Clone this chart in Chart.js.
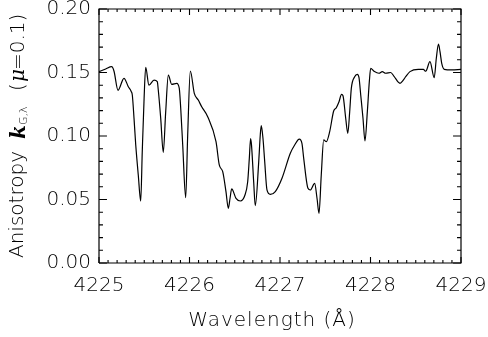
<!DOCTYPE html>
<html>
<head>
<meta charset="utf-8">
<script src="https://cdn.jsdelivr.net/npm/chart.js@4.4.0/dist/chart.umd.min.js"></script>
<style>
  html, body { margin: 0; padding: 0; background: #fff; }
</style>
</head>
<body>
<canvas id="grafico" width="488" height="337"></canvas>
<script>
// wavelength (Å)
const wavelength = [
  4225.000, 4225.074, 4225.140, 4225.166, 4225.210, 4225.276, 4225.324, 4225.357,
  4225.368, 4225.387, 4225.406, 4225.434, 4225.461, 4225.478, 4225.497, 4225.516,
  4225.552, 4225.608, 4225.644, 4225.655, 4225.682, 4225.710, 4225.737, 4225.766,
  4225.803, 4225.859, 4225.887, 4225.903, 4225.925, 4225.958, 4225.980, 4226.009,
  4226.053, 4226.097, 4226.135, 4226.201, 4226.293, 4226.329, 4226.367, 4226.403,
  4226.429, 4226.448, 4226.466, 4226.514, 4226.561, 4226.613, 4226.643, 4226.661,
  4226.675, 4226.685, 4226.709, 4226.727, 4226.765, 4226.782, 4226.793, 4226.812,
  4226.831, 4226.856, 4226.893, 4226.948, 4227.022, 4227.114, 4227.162, 4227.213,
  4227.243, 4227.262, 4227.309, 4227.335, 4227.383, 4227.409, 4227.431, 4227.456,
  4227.483, 4227.512, 4227.549, 4227.593, 4227.622, 4227.652, 4227.680, 4227.696,
  4227.726, 4227.749, 4227.770, 4227.788, 4227.825, 4227.854, 4227.873, 4227.892,
  4227.917, 4227.939, 4227.965, 4227.987, 4228.002, 4228.039, 4228.094, 4228.130,
  4228.168, 4228.223, 4228.260, 4228.326, 4228.362, 4228.389, 4228.436, 4228.528,
  4228.584, 4228.610, 4228.657, 4228.704, 4228.727, 4228.751, 4228.768, 4228.787,
  4228.815, 4228.897, 4229.000
];

// anisotropy k_G,λ at mu = 0.1
const anisotropy = [
  0.1507, 0.1528, 0.1546, 0.1510, 0.1360, 0.1454, 0.1388, 0.1349,
  0.1323, 0.1139, 0.0929, 0.0693, 0.0488, 0.0877, 0.1270, 0.1540,
  0.1400, 0.1440, 0.1428, 0.1362, 0.1139, 0.0871, 0.1190, 0.1480,
  0.1407, 0.1415, 0.1375, 0.1218, 0.0929, 0.0514, 0.1008, 0.1512,
  0.1336, 0.1283, 0.1230, 0.1152, 0.0955, 0.0772, 0.0719, 0.0562,
  0.0430, 0.0510, 0.0583, 0.0509, 0.0488, 0.0535, 0.0640, 0.0824,
  0.0980, 0.0930, 0.0640, 0.0451, 0.0798, 0.1008, 0.1081, 0.0980,
  0.0798, 0.0575, 0.0540, 0.0562, 0.0667, 0.0864, 0.0929, 0.0976,
  0.0940, 0.0824, 0.0588, 0.0575, 0.0627, 0.0510, 0.0391, 0.0693,
  0.0969, 0.0955, 0.1034, 0.1197, 0.1223, 0.1270, 0.1328, 0.1317,
  0.1140, 0.1021, 0.1190, 0.1375, 0.1467, 0.1486, 0.1460, 0.1323,
  0.1140, 0.0961, 0.1190, 0.1428, 0.1533, 0.1510, 0.1494, 0.1507,
  0.1494, 0.1500, 0.1470, 0.1415, 0.1440, 0.1467, 0.1507, 0.1525,
  0.1525, 0.1510, 0.1585, 0.1459, 0.1610, 0.1723, 0.1664, 0.1572,
  0.1525, 0.1520, 0.1525
];

const xTicks = [4225, 4226, 4227, 4228, 4229];
const yTicks = [0.00, 0.05, 0.10, 0.15, 0.20];

const xMin = 4225, xMax = 4229, yMin = 0, yMax = 0.2;
const tickFont = { family: 'DejaVu Sans', size: 20, weight: 200 };

// box around the plot
const caixa = [
  { x: xMin, y: yMin }, { x: xMax, y: yMin }, { x: xMax, y: yMax },
  { x: xMin, y: yMax }, { x: xMin, y: yMin }
];

// inward ticks: every 0.1 Å / 0.01, longer at the labelled ones
const tracos = [];
for (let i = 0; i <= 40; i++) {
  const v = xMin + i * 0.1;
  const len = i % 10 === 0 ? 0.0047 : 0.0024;
  tracos.push({ x: v, y: yMin }, { x: v, y: yMin + len }, { x: v, y: null });
  tracos.push({ x: v, y: yMax }, { x: v, y: yMax - len }, { x: v, y: null });
}
for (let i = 0; i <= 20; i++) {
  const v = i * 0.01;
  const len = i % 5 === 0 ? 0.088 : 0.044;
  tracos.push({ x: xMin, y: v }, { x: xMin + len, y: v }, { x: xMin, y: null });
  tracos.push({ x: xMax, y: v }, { x: xMax - len, y: v }, { x: xMax, y: null });
}

// axis titles
const titulos = {
  id: 'titulos',
  afterDraw(chart) {
    const ctx = chart.ctx;
    ctx.save();
    ctx.fillStyle = '#000';
    ctx.textBaseline = 'alphabetic';
    ctx.letterSpacing = '1px';
    ctx.font = '200 20px "DejaVu Sans"';
    ctx.textAlign = 'center';
    ctx.fillText('Wavelength (Å)', 272, 326);

    ctx.letterSpacing = '0px';
    ctx.textAlign = 'left';
    const parts = [
      { text: 'Anisotropy', font: '200 20px "DejaVu Sans"', at: 258, dx: 0 },
      { text: 'k', font: 'italic bold 20px "DejaVu Serif"', at: 139, dx: 2 },
      { text: 'G,λ', font: '200 11px "DejaVu Sans"', at: 125, dx: 4 },
      { text: '(', font: '200 20px "DejaVu Sans"', at: 91, dx: 1 },
      { text: 'μ', font: 'italic 20px "DejaVu Serif"', at: 82, dx: 1 },
      { text: '=0.1)', font: '200 20px "DejaVu Sans"', at: 70, dx: 1 }
    ];
    parts.forEach(p => {
      ctx.save();
      ctx.translate(23 + p.dx, p.at);
      ctx.rotate(-Math.PI / 2);
      ctx.font = p.font;
      ctx.fillText(p.text, 0, 0);
      ctx.restore();
    });
    ctx.restore();
  }
};

new Chart(document.getElementById('grafico'), {
  type: 'line',
  data: {
    datasets: [
      {
        data: wavelength.map((w, i) => ({ x: w, y: anisotropy[i] })),
        borderColor: '#000',
        borderWidth: 1.2,
        pointRadius: 0,
        fill: false,
        cubicInterpolationMode: 'monotone'
      },
      {
        data: caixa,
        borderColor: '#000',
        borderWidth: 1.2,
        pointRadius: 0,
        fill: false,
        tension: 0,
        clip: false
      },
      {
        data: tracos,
        borderColor: '#000',
        borderWidth: 1.1,
        pointRadius: 0,
        fill: false,
        tension: 0,
        spanGaps: false,
        clip: false
      }
    ]
  },
  options: {
    responsive: false,
    animation: false,
    devicePixelRatio: 1,
    layout: { padding: { left: 0, right: 27, top: 9, bottom: 0 } },
    plugins: {
      legend: { display: false },
      tooltip: { enabled: false }
    },
    scales: {
      x: {
        type: 'linear',
        min: xMin,
        max: xMax,
        afterBuildTicks(s) { s.ticks = xTicks.map(v => ({ value: v })); },
        afterFit(s) { s.height = 74; s.paddingLeft = 0; s.paddingRight = 0; },
        grid: { display: false, drawTicks: false },
        border: { display: false },
        ticks: {
          color: '#000',
          font: tickFont,
          padding: 11,
          maxRotation: 0,
          autoSkip: false,
          callback: v => String(v)
        }
      },
      y: {
        min: yMin,
        max: yMax,
        afterBuildTicks(s) { s.ticks = yTicks.map(v => ({ value: v })); },
        afterFit(s) { s.width = 99; s.paddingTop = 0; s.paddingBottom = 0; },
        grid: { display: false, drawTicks: false },
        border: { display: false },
        ticks: {
          color: '#000',
          font: tickFont,
          padding: 8,
          autoSkip: false,
          callback: v => v.toFixed(2)
        }
      }
    }
  },
  plugins: [titulos]
});
</script>
</body>
</html>
